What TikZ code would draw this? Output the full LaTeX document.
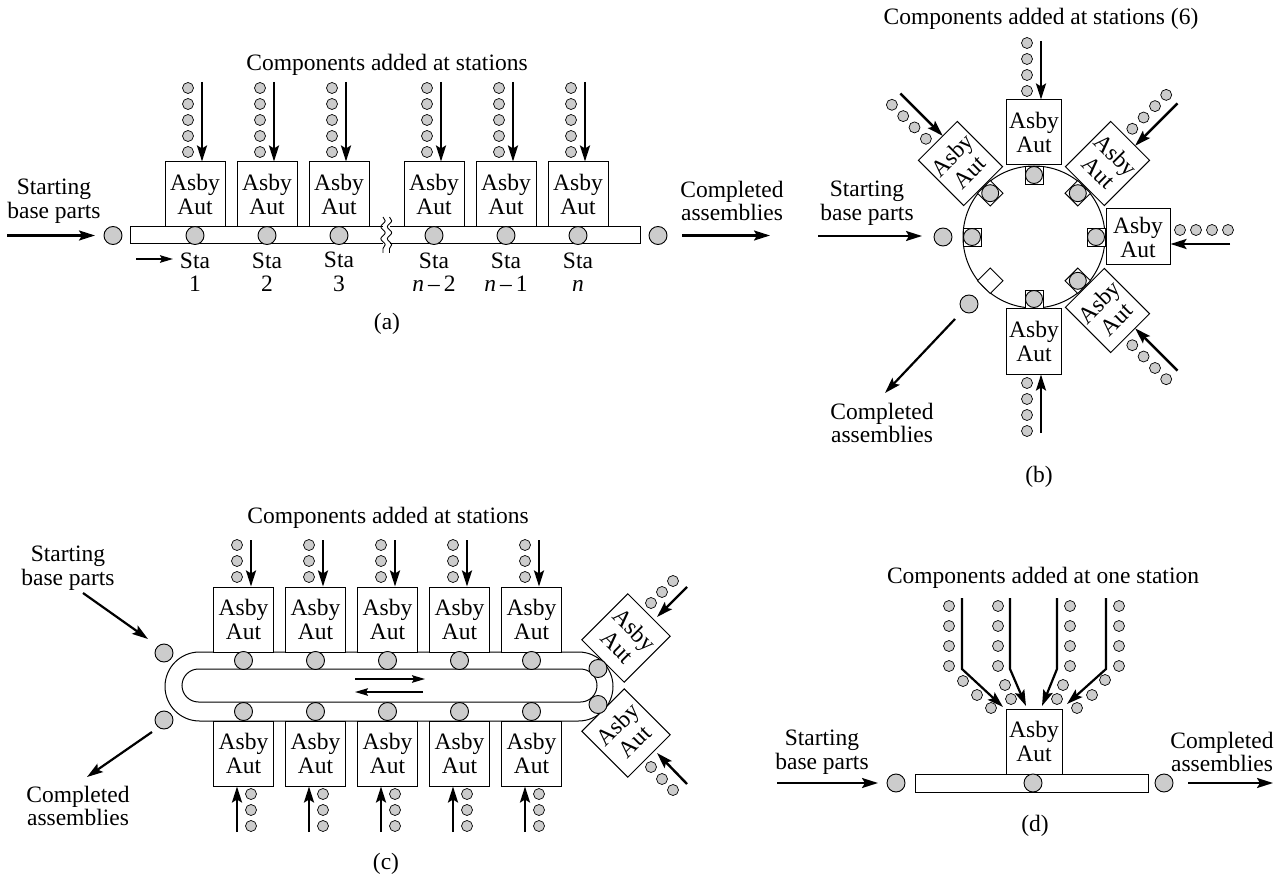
\documentclass[tikz,border=0pt]{standalone}
\usepackage{fontspec}
\setmainfont{Liberation Serif}
\usetikzlibrary{arrows.meta,decorations.pathmorphing,calc}
\newcommand\lblfont{\fontsize{23.5}{23.5}\selectfont}
\begin{document}
\begin{tikzpicture}[x=1pt,y=-1pt,
 lbl/.style={font=\lblfont, align=center, inner sep=0pt},
 asby/.style={draw, line width=1pt, minimum width=60pt, minimum height=65pt, inner sep=0pt, align=center, font=\fontsize{23.5}{24}\selectfont, fill=white},
 part/.style={circle, draw, line width=0.9pt, fill=gray!40, minimum size=18pt, inner sep=0pt},
 dot/.style={circle, draw, line width=0.7pt, fill=gray!40, minimum size=11pt, inner sep=0pt},
 feed/.style={line width=2.4pt, -{Stealth[length=16pt,width=10pt,inset=3pt]}},
 flow/.style={line width=2.2pt, -{Stealth[length=16pt,width=10pt,inset=3pt]}},
 small/.style={line width=1.6pt, -{Stealth[length=13pt,width=7.5pt,inset=2pt]}},
 track/.style={draw, line width=1pt},
 holder/.style={draw, line width=0.9pt, fill=white, minimum size=18pt, inner sep=0pt},
]
\useasboundingbox (0,0) rectangle (1288,877);

% ================= (a) =================
\node[lbl] (a-title) at (387,65) {Components added at stations};
\node[track, minimum width=510pt, minimum height=17pt, inner sep=0pt] (a-belt) at (385,235.5) {};
\foreach \x/\n [count=\i] in {195/1, 267/2, 339/3, 434/{\textit{n}\,\textendash\,2}, 506/{\textit{n}\,\textendash\,1}, 578/{\textit{n}}}{
  \node[asby] (a-box\i) at (\x,194.5) {Asby\\Aut};
  \node[part] (a-part\i) at (\x,235.5) {};
  \node[lbl] (a-sta\i) at (\x,272) {Sta\\\n};
  \foreach \y [count=\j] in {88,104,120,136,152}
    \node[dot] (a-dot\i-\j) at (\x-7,\y) {};
  \coordinate (a-src\i) at (\x+7,82);
  \draw[feed] (a-src\i) -- (a-src\i |- a-box\i.north);
}
% break in the line
\fill[white] (383,225) rectangle (389.5,246);
\draw[line width=0.9pt, decorate, decoration={snake, amplitude=2.2pt, segment length=12pt}] (383,217) -- (383,253);
\draw[line width=0.9pt, decorate, decoration={snake, amplitude=2.2pt, segment length=12pt}] (389.5,217) -- (389.5,253);
\node[part] (a-in) at (113,235.5) {};
\coordinate (a-s0) at (7,235.5);
\coordinate (a-s1) at (95,235.5);
\draw[flow] (a-s0) -- (a-s1);
\node[lbl] (a-start) at (54,201) {Starting\\base parts};
\node[part] (a-out) at (658,235.5) {};
\coordinate (a-e0) at (682,235.5);
\coordinate (a-e1) at (770,235.5);
\draw[flow] (a-e0) -- (a-e1);
\node[lbl] (a-done) at (732,201) {Completed\\assemblies};
\coordinate (a-d0) at (136,259);
\coordinate (a-d1) at (173,259);
\draw[small] (a-d0) -- (a-d1);
\node[lbl] (a-cap) at (387,324) {(a)};

% ================= (b) =================
\node[lbl] (b-title) at (1041,19) {Components added at stations (6)};
\node[circle, track, minimum size=142pt, inner sep=0pt] (b-ring) at (1034,237) {};
\node[asby, minimum width=55pt] (b-top) at (1034,132.5) {Asby\\Aut};
\node[asby, minimum width=55pt] (b-bot) at (1034,341.5) {Asby\\Aut};
\node[asby, minimum width=64pt, minimum height=56pt] (b-right) at (1138,237) {Asby\\Aut};
\node[asby, minimum width=55pt, minimum height=64pt, rotate=-45] (b-ur) at (1107.5,163.5) {Asby\\Aut};
\node[asby, minimum width=55pt, minimum height=64pt, rotate=45] (b-ul) at (960.5,163.5) {Asby\\Aut};
\node[asby, minimum width=55pt, minimum height=64pt, rotate=45] (b-lr) at (1107.5,310.5) {Asby\\Aut};
\foreach \px/\py/\r [count=\i] in {1034/175/0, 1034/299/0, 972/237/0, 1096/237/0, 990.2/193.2/45, 1077.8/193.2/45, 1077.8/280.8/45}{
  \node[holder, rotate=\r] (b-hold\i) at (\px,\py) {};
  \node[part, minimum size=17pt] (b-part\i) at (\px,\py) {};
}
\node[holder, rotate=45] (b-hold8) at (990.2,280.8) {};
% feeders
\coordinate (b-f1) at (1041,41);
\draw[feed] (b-f1) -- (b-f1 |- b-top.north);
\foreach \y [count=\j] in {43,59,75,91} \node[dot] (b-d1-\j) at (1027,\y) {};
\coordinate (b-f5) at (1041,433);
\draw[feed] (b-f5) -- (b-f5 |- b-bot.south);
\foreach \y [count=\j] in {431,415,399,383} \node[dot] (b-d5-\j) at (1027,\y) {};
\coordinate (b-f3) at (1230,244);
\draw[feed] (b-f3) -- (b-f3 -| b-right.east);
\foreach \x [count=\j] in {1228,1212,1196,1180} \node[dot] (b-d3-\j) at (\x,230) {};
\coordinate (b-f2a) at (1177.5,103.4);
\coordinate (b-f2b) at (1135.1,145.8);
\draw[feed] (b-f2a) -- (b-f2b);
\foreach \x/\y [count=\j] in {1166.2/94.9, 1155.0/106.1, 1143.6/117.5, 1132.3/128.8} \node[dot] (b-d2-\j) at (\x,\y) {};
\coordinate (b-f6a) at (900.4,93.5);
\coordinate (b-f6b) at (942.8,135.9);
\draw[feed] (b-f6a) -- (b-f6b);
\foreach \x/\y [count=\j] in {891.9/104.8, 903.2/116.1, 914.5/127.4, 925.9/138.8} \node[dot] (b-d6-\j) at (\x,\y) {};
\coordinate (b-f4a) at (1177.5,370.7);
\coordinate (b-f4b) at (1135.1,328.3);
\draw[feed] (b-f4a) -- (b-f4b);
\foreach \x/\y [count=\j] in {1166.2/379.2, 1155.0/368.0, 1143.6/356.5, 1132.3/345.2} \node[dot] (b-d4-\j) at (\x,\y) {};
% in / out
\node[part] (b-in) at (943,237) {};
\node[part] (b-out) at (969,304) {};
\coordinate (b-s0) at (818,236);
\coordinate (b-s1) at (922,236);
\draw[flow] (b-s0) -- (b-s1);
\coordinate (b-e0) at (955,319);
\coordinate (b-e1) at (885,393);
\draw[flow] (b-e0) -- (b-e1);
\node[lbl] (b-start) at (867,203) {Starting\\base parts};
\node[lbl] (b-done) at (882,423) {Completed\\assemblies};
\node[lbl] (b-cap) at (1039,477) {(b)};

% ================= (c) =================
\node[lbl] (c-title) at (388,518) {Components added at stations};
\draw[track, rounded corners=34.5pt] (165,652) rectangle (613,721);
\draw[track, rounded corners=16.5pt] (182,669) rectangle (597,702);
\foreach \x [count=\i] in {243.5,315.5,387.5,459.5,531.5}{
  \node[asby] (c-tbox\i) at (\x,619.5) {Asby\\Aut};
  \node[asby] (c-bbox\i) at (\x,753.5) {Asby\\Aut};
  \node[part] (c-tpart\i) at (\x,660.5) {};
  \node[part] (c-bpart\i) at (\x,711.5) {};
  \foreach \y [count=\j] in {545,561,577} \node[dot] (c-td\i-\j) at (\x-6.5,\y) {};
  \coordinate (c-tsrc\i) at (\x+7.5,540);
  \draw[feed] (c-tsrc\i) -- (c-tsrc\i |- c-tbox\i.north);
  \foreach \y [count=\j] in {794,810,826} \node[dot] (c-bd\i-\j) at (\x+7.5,\y) {};
  \coordinate (c-bsrc\i) at (\x-6.5,832);
  \draw[feed] (c-bsrc\i) -- (c-bsrc\i |- c-bbox\i.south);
}
\node[asby, rotate=-45] (c-ur) at (626,638) {Asby\\Aut};
\node[asby, rotate=45] (c-lr) at (626,733) {Asby\\Aut};
\node[part] (c-rpart1) at (598,668.5) {};
\node[part] (c-rpart2) at (598,704.5) {};
\foreach \x/\y [count=\j] in {673/581, 662/592, 651/603} \node[dot] (c-ud-\j) at (\x,\y) {};
\coordinate (c-u0) at (687,587);
\coordinate (c-u1) at (657,617);
\draw[feed] (c-u0) -- (c-u1);
\foreach \x/\y [count=\j] in {651/767, 662/779, 673/790} \node[dot] (c-ld-\j) at (\x,\y) {};
\coordinate (c-l0) at (687,784);
\coordinate (c-l1) at (657,753);
\draw[feed] (c-l0) -- (c-l1);
\coordinate (c-m0) at (355,679);
\coordinate (c-m1) at (425,679);
\coordinate (c-m2) at (423,692);
\coordinate (c-m3) at (355,692);
\draw[small] (c-m0) -- (c-m1);
\draw[small] (c-m2) -- (c-m3);
\node[part] (c-in) at (164,653) {};
\node[part] (c-out) at (164,720) {};
\coordinate (c-s0) at (83,593);
\coordinate (c-s1) at (148,639);
\draw[flow] (c-s0) -- (c-s1);
\coordinate (c-e0) at (152,732);
\coordinate (c-e1) at (87,777);
\draw[flow] (c-e0) -- (c-e1);
\node[lbl] (c-start) at (68,568) {Starting\\base parts};
\node[lbl] (c-done) at (78,806) {Completed\\assemblies};
\node[lbl] (c-cap) at (386,864) {(c)};

% ================= (d) =================
\node[lbl] (d-title) at (1043,578) {Components added at one station};
\node[track, minimum width=233pt, minimum height=18pt, inner sep=0pt] (d-belt) at (1031.5,783) {};
\node[asby, minimum width=56pt] (d-box) at (1034,741.5) {Asby\\Aut};
\node[part] (d-part) at (1033,783) {};
\node[part] (d-in) at (896,783) {};
\node[part] (d-out) at (1164,783) {};
\coordinate (d-s0) at (777,783);
\coordinate (d-s1) at (878,783);
\draw[flow] (d-s0) -- (d-s1);
\coordinate (d-e0) at (1188,783);
\coordinate (d-e1) at (1273,783);
\draw[flow] (d-e0) -- (d-e1);
\node[lbl] (d-start) at (822,752) {Starting\\base parts};
\node[lbl] (d-done) at (1222,752) {Completed\\assemblies};
\foreach \x/\bx/\tx/\ty [count=\i] in {962/962/1003/707, 1010/1010/1026/706, 1057/1057/1042/706, 1106/1106/1067/704}{
  \coordinate (d-f\i a) at (\x,598);
  \coordinate (d-f\i b) at (\bx,669);
  \coordinate (d-f\i c) at (\tx,\ty);
  \draw[feed, line width=2.2pt] (d-f\i a) -- (d-f\i b) -- (d-f\i c);
}
\foreach \x [count=\i] in {949,998,1070,1119}
  \foreach \y [count=\j] in {606,626,646,666}
    \node[dot] (d-c\i-\j) at (\x,\y) {};
\foreach \x/\y [count=\j] in {963/681, 977/695, 991/708, 1005/685, 1011/699, 1063/685, 1057/699, 1105/680, 1092/695, 1077/708}
  \node[dot] (d-g\j) at (\x,\y) {};
\node[lbl] (d-cap) at (1035,826) {(d)};
\end{tikzpicture}
\end{document}
